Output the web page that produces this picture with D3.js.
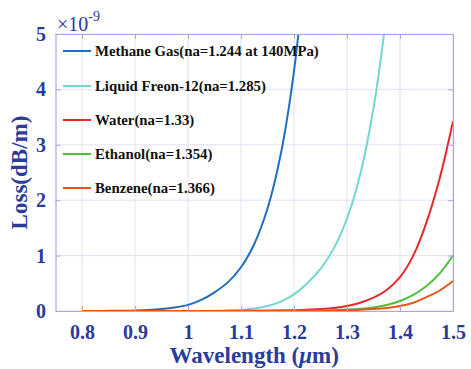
<!DOCTYPE html>
<html><head><meta charset="utf-8">
<script src="https://cdn.jsdelivr.net/npm/d3@7"></script>
<style>body{margin:0;background:#fff}svg{display:block}</style>
</head><body>
<script>
const wavelengths = [0.8,0.825,0.85,0.875,0.9,0.925,0.95,0.975,1.0,1.025,1.05,1.075,1.1,1.125,1.15,1.175,1.2,1.225,1.25,1.275,1.3,1.325,1.35,1.375,1.4,1.425,1.45,1.475,1.5];
const methane = [0.0005,0.001,0.0025,0.005,0.01,0.02,0.036,0.062,0.11,0.2,0.337,0.517,0.79,1.21,1.85,2.83,4.33,6.6,null,null,null,null,null,null,null,null,null,null,null];
const freon = [0,0,0,0,0,0,0,0,0,0.0005,0.003,0.008,0.02,0.045,0.09,0.17,0.3,0.5,0.76,1.13,1.67,2.47,3.66,5.42,8.0,null,null,null,null];
const water = [0,0,0,0,0,0,0,0,0.001,0.0015,0.002,0.0025,0.003,0.004,0.006,0.009,0.014,0.022,0.035,0.055,0.09,0.15,0.24,0.38,0.61,1.0,1.6,2.4,3.42];
const ethanol = [0,0,0,0,0,0,0,0,0,0.001,0.001,0.0015,0.002,0.0025,0.003,0.0035,0.004,0.006,0.009,0.015,0.025,0.04,0.065,0.11,0.18,0.29,0.45,0.68,1.0];
const benzene = [0,0,0,0,0,0,0,0,0,0,0.001,0.001,0.0015,0.002,0.002,0.0025,0.003,0.004,0.005,0.008,0.013,0.021,0.034,0.055,0.09,0.15,0.25,0.37,0.54];
const seriesNames = ["Methane Gas(na=1.244 at 140MPa)","Liquid Freon-12(na=1.285)","Water(na=1.33)","Ethanol(na=1.354)","Benzene(na=1.366)"];
const seriesColors = ["#1f6fc0","#72d8cd","#e52a2a","#4cbf3c","#e8551c"];
const xTicks = [0.8,0.9,1,1.1,1.2,1.3,1.4,1.5];
const yTicks = [0,1,2,3,4,5];

const W=471,H=369;
const m={l:55.5,r:18,t:34,b:58};
const svg=d3.select("body").append("svg").attr("width",W).attr("height",H);
const x=d3.scaleLinear().domain([0.75,1.5]).range([m.l,W-m.r]);
const y=d3.scaleLinear().domain([0,5]).range([H-m.b,m.t]);
const tickColor="#2b3b9b", axisColor="#a9a9e2", gridColor="#e1e1f5";
const font="'Liberation Serif','Times New Roman',serif";

// grid
svg.append("g").selectAll("line").data(xTicks).join("line")
  .attr("x1",d=>x(d)).attr("x2",d=>x(d)).attr("y1",y(0)).attr("y2",y(5))
  .attr("stroke",gridColor).attr("stroke-width",1);
svg.append("g").selectAll("line").data(yTicks).join("line")
  .attr("y1",d=>y(d)).attr("y2",d=>y(d)).attr("x1",x(0.75)).attr("x2",x(1.5))
  .attr("stroke",gridColor).attr("stroke-width",1);

// curves
svg.append("defs").append("clipPath").attr("id","clip").append("rect")
  .attr("x",x(0.75)).attr("y",y(5)).attr("width",x(1.5)-x(0.75)).attr("height",y(0)-y(5));
const allSeries=[methane,freon,water,ethanol,benzene];
const line=d3.line().defined(d=>d[1]!==null).x(d=>x(d[0])).y(d=>y(d[1])).curve(d3.curveCatmullRom.alpha(0.5));
svg.append("g").attr("clip-path","url(#clip)").selectAll("path").data([0,1,2,3,4]).join("path")
  .attr("d",i=>line(wavelengths.map((w,j)=>[w,allSeries[i][j]])))
  .attr("fill","none").attr("stroke",i=>seriesColors[i]).attr("stroke-width",2);

// axes
const gx=svg.append("g").attr("transform",`translate(0,${y(0)})`)
  .call(d3.axisBottom(x).tickValues(xTicks).tickFormat(d=>String(d)).tickSizeInner(-5).tickSizeOuter(0).tickPadding(14));
const gx2=svg.append("g").attr("transform",`translate(0,${y(5)})`)
  .call(d3.axisTop(x).tickValues(xTicks).tickFormat("").tickSizeInner(-5).tickSizeOuter(0));
const gy=svg.append("g").attr("transform",`translate(${x(0.75)},0)`)
  .call(d3.axisLeft(y).tickValues(yTicks).tickFormat(d=>String(d)).tickSizeInner(-5).tickSizeOuter(0).tickPadding(9.5));
const gy2=svg.append("g").attr("transform",`translate(${x(1.5)},0)`)
  .call(d3.axisRight(y).tickValues(yTicks).tickFormat("").tickSizeInner(-5).tickSizeOuter(0));
[gx,gx2,gy,gy2].forEach(g=>{
  g.select(".domain").attr("stroke",axisColor).attr("stroke-width",1.2);
  g.selectAll(".tick line").attr("stroke",axisColor);
  g.selectAll("text").attr("fill",tickColor).style("font-family",font).style("font-weight","bold").style("font-size","20px");
});

// exponent
const ex=svg.append("text").attr("x",57).attr("y",31).attr("fill",tickColor)
  .style("font-family",font).style("font-size","20px");
ex.append("tspan").text("\u00d710");
ex.append("tspan").attr("dy",-10).style("font-size","14px").text("-9");

// labels
const xl=svg.append("text").attr("x",(x(0.75)+x(1.5))/2).attr("y",363).attr("text-anchor","middle")
  .attr("fill",tickColor).style("font-family",font).style("font-weight","bold").style("font-size","23px");
xl.append("tspan").text("Wavelength (");
xl.append("tspan").style("font-style","italic").text("\u03bc");
xl.append("tspan").text("m)");
svg.append("text").attr("transform",`translate(27,${(y(0)+y(5))/2}) rotate(-90)`).attr("text-anchor","middle")
  .attr("fill",tickColor).style("font-family",font).style("font-weight","bold").style("font-size","23px")
  .text("Loss(dB/m)");

// legend
const legY=[51,86,120,154,188];
const lg=svg.append("g");
seriesNames.forEach((n,i)=>{
  lg.append("line").attr("x1",63).attr("x2",91).attr("y1",legY[i]).attr("y2",legY[i])
    .attr("stroke",seriesColors[i]).attr("stroke-width",2);
  lg.append("text").attr("x",95).attr("y",legY[i]+5).attr("fill","#111")
    .style("font-family",font).style("font-weight","bold").style("font-size","14.8px").text(n);
});
</script>
</body></html>
